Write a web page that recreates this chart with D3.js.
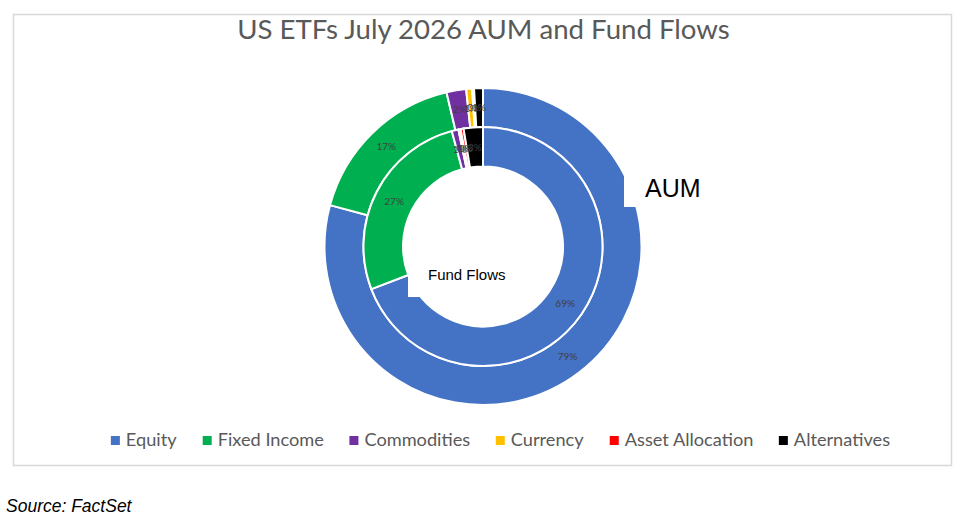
<!DOCTYPE html>
<html>
<head>
<meta charset="utf-8">
<script src="https://cdn.jsdelivr.net/npm/d3@7/dist/d3.min.js"></script>
<style>
  html, body { margin: 0; padding: 0; background: #fff; }
  svg { display: block; }
</style>
</head>
<body>
<svg id="chart" width="962" height="523"></svg>
<script>
const categories = ["Equity", "Fixed Income", "Commodities", "Currency", "Asset Allocation", "Alternatives"];
const aumValues = [79.2, 17.1, 2.0, 0.6, 0.2, 0.9];
const flowValues = [69.2, 26.6, 0.9, 0.3, 0.4, 2.6];
const colors = ["#4472C4", "#00B050", "#7030A0", "#FFC000", "#FF0000", "#000000"];
const titleText = "US ETFs July 2026 AUM and Fund Flows";
const sourceText = "Source: FactSet";

const svg = d3.select("#chart");
const cx = 483, cy = 246.5;
const rHole = 80, rMid = 119.5, rOuter = 158.5;

// frame
svg.append("rect").attr("x", 13.5).attr("y", 14.5).attr("width", 938).attr("height", 451)
  .attr("fill", "#fff").attr("stroke", "#D9D9D9").attr("stroke-width", 1.5);

// title
svg.append("text").attr("x", 483.5).attr("y", 38.5).attr("text-anchor", "middle")
  .attr("font-family", "Lato, 'Open Sans', sans-serif").attr("font-size", 27.6)
  .attr("fill", "#595959").text(titleText);

const color = d3.scaleOrdinal().domain(categories).range(colors);
const pie = d3.pie().sort(null).value(d => d.v);
const g = svg.append("g").attr("transform", `translate(${cx},${cy})`);

function ring(values, r0, r1, cls) {
  const data = pie(categories.map((c, i) => ({ c, v: values[i] })));
  const arc = d3.arc().innerRadius(r0).outerRadius(r1);
  const gg = g.append("g").attr("class", cls);
  gg.selectAll("path").data(data).join("path")
    .attr("d", arc).attr("fill", d => color(d.data.c))
    .attr("stroke", "#fff").attr("stroke-width", 2).attr("stroke-linejoin", "round");
  gg.selectAll("text").data(data).join("text")
    .attr("transform", d => `translate(${arc.centroid(d)})`)
    .attr("text-anchor", "middle").attr("dy", "0.35em")
    .attr("font-family", "Lato, 'Open Sans', sans-serif").attr("font-size", 10)
    .attr("fill", "#404040")
    .text(d => Math.round(d.data.v) + "%");
}
ring(aumValues, rMid, rOuter, "aum");
ring(flowValues, rHole, rMid, "flows");

// series name labels with white boxes
svg.append("rect").attr("x", 624).attr("y", 165).attr("width", 92).attr("height", 42).attr("fill", "#fff");
svg.append("text").attr("x", 645).attr("y", 197).attr("font-family", "'Liberation Sans', Arial, sans-serif")
  .attr("font-size", 25).attr("fill", "#000").text("AUM");
svg.append("rect").attr("x", 408).attr("y", 256).attr("width", 118).attr("height", 41).attr("fill", "#fff");
svg.append("text").attr("x", 428).attr("y", 280).attr("font-family", "'Liberation Sans', Arial, sans-serif")
  .attr("font-size", 15).attr("fill", "#000").text("Fund Flows");

// legend
const lg = svg.append("g");
const items = lg.selectAll("g").data(categories).join("g");
items.append("rect").attr("width", 9).attr("height", 9).attr("y", -10).attr("fill", d => color(d));
items.append("text").attr("x", 15).attr("y", 0)
  .attr("font-family", "Lato, 'Open Sans', sans-serif").attr("font-size", 18.2)
  .attr("fill", "#595959").text(d => d);
let x = 0;
const gap = 25.5;
items.each(function () {
  const w = this.getBBox().width;
  d3.select(this).attr("transform", `translate(${x},446)`);
  x += w + gap;
});
const totalW = x - gap;
lg.attr("transform", `translate(${500.5 - totalW / 2},0)`);

// source
svg.append("text").attr("x", 6).attr("y", 512).attr("font-family", "'Liberation Sans', Arial, sans-serif")
  .attr("font-style", "italic").attr("font-size", 17.5).attr("fill", "#000").text(sourceText);
</script>
</body>
</html>
